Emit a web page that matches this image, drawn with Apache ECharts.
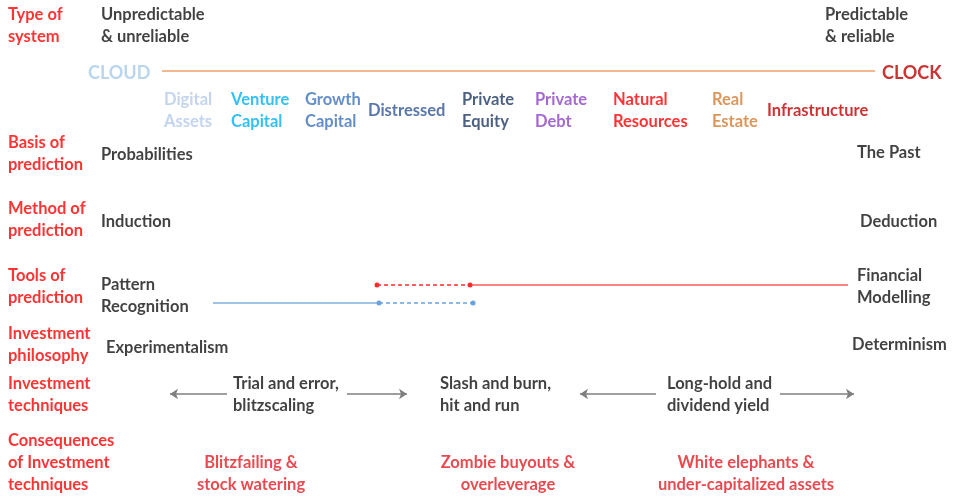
<!DOCTYPE html>
<html><head><meta charset="utf-8">
<script src="https://cdn.jsdelivr.net/npm/echarts@6/dist/echarts.min.js"></script>
<style>html,body{margin:0;padding:0;background:#fff}#c{width:959px;height:499px}</style>
</head><body><div id="c"></div>
<script>
// ---- content ----
const rowLabels = ['Type of\nsystem','Basis of\nprediction','Method of\nprediction','Tools of\nprediction','Investment\nphilosophy','Investment\ntechniques','Consequences\nof Investment\ntechniques'];
const cloudEnd = ['Unpredictable\n& unreliable','Probabilities','Induction','Pattern\nRecognition','Experimentalism'];
const clockEnd = ['Predictable\n& reliable','The Past','Deduction','Financial\nModelling','Determinism'];
const spectrumEnds = ['CLOUD','CLOCK'];
const assetClasses = ['Digital\nAssets','Venture\nCapital','Growth\nCapital','Distressed','Private\nEquity','Private\nDebt','Natural\nResources','Real\nEstate','Infrastructure'];
const techniques = ['Trial and error,\nblitzscaling','Slash and burn,\nhit and run','Long-hold and\ndividend yield'];
const consequences = ['Blitzfailing &\nstock watering','Zombie buyouts &\noverleverage','White elephants &\nunder-capitalized assets'];
// tools-of-prediction ranges along the cloud→clock scale
const patternSolid = [213, 379];
const patternDashed = [379, 473];
const modelDashed = [377, 470];
const modelSolid = [470, 848];
// arrows for investment techniques [from, to]
const techArrows = [[227, 170], [347, 407], [656, 580], [780, 854]];

// ---- layout / style ----
const FONT = 'Lato';
const FS = 16.5;
const rowY = [26, 154, 220, 287, 345, 394.5, 463];
const cloudX = [101, 101, 101, 101, 106];
const cloudY = [26, 155, 222, 296, 348];
const clockX = [825, 857, 860, 857, 852];
const clockY = [26, 153, 222, 287, 345];
const assetX = [164, 231, 305, 368, 462, 535, 613, 712, 767];
const assetColors = ['#b4c9e8','#00b0f0','#3b72bd','#2f5597','#1f3864','#8c44c6','#ff0000','#d27c33','#c00000'];
const techX = [233, 440, 667];
const consX = [251, 508, 746];
const spectrumY = 71;
const toolsY = [285, 303];
const arrowY = 394;

function txt(x, y, text, color, opts) {
  opts = opts || {};
  return {
    value: [x, y],
    label: {
      show: true, position: 'inside', formatter: text,
      align: opts.align || 'left', verticalAlign: 'middle',
      color: color, fontFamily: FONT, fontWeight: 'bold',
      fontSize: opts.size || FS, lineHeight: opts.lh || 22
    }
  };
}

const texts = [];
rowLabels.forEach((t, i) => texts.push(txt(8, rowY[i], t, '#ff0000')));
cloudEnd.forEach((t, i) => texts.push(txt(cloudX[i], cloudY[i], t, '#111111')));
clockEnd.forEach((t, i) => texts.push(txt(clockX[i], clockY[i], t, '#111111')));
texts.push(txt(88, spectrumY + 2, spectrumEnds[0], '#a9cbea', {size: 18}));
texts.push(txt(882, spectrumY + 2, spectrumEnds[1], '#c00000', {size: 18}));
assetClasses.forEach((t, i) => texts.push(txt(assetX[i], 111, t, assetColors[i])));
techniques.forEach((t, i) => texts.push(txt(techX[i], 394.5, t, '#111111')));
consequences.forEach((t, i) => texts.push(txt(consX[i], 474, t, '#e31b23', {align: 'center'})));

function seg(range, y, color, dashed, dots) {
  return {
    type: 'line', data: [[range[0], y], [range[1], y]],
    showSymbol: !!dots, symbol: 'circle', symbolSize: 5,
    itemStyle: {color: color}, silent: true,
    lineStyle: {color: color, width: 1.6, type: dashed ? [4, 3] : 'solid'},
    z: 2
  };
}

const series = [
  {type: 'line', data: [[162, spectrumY], [875, spectrumY]], showSymbol: false,
   lineStyle: {color: '#f5b88e', width: 2}, silent: true},
  seg(modelSolid, toolsY[0], '#ff5a5a', false, false),
  seg(modelDashed, toolsY[0], '#ff2b2b', true, true),
  seg(patternSolid, toolsY[1], '#7fb0e0', false, false),
  seg(patternDashed, toolsY[1], '#6aa3dc', true, true),
  {type: 'lines', coordinateSystem: 'cartesian2d', silent: true,
   symbol: ['none', 'arrow'], symbolSize: 8,
   lineStyle: {color: '#7f7f7f', width: 1.5, opacity: 1},
   data: techArrows.map(a => ({coords: [[a[0], arrowY], [a[1], arrowY]]}))},
  {type: 'scatter', symbolSize: 0, data: texts, silent: true, z: 5}
];

const chart = echarts.init(document.getElementById('c'));
chart.setOption({
  animation: false,
  backgroundColor: '#ffffff',
  grid: {left: 0, right: 0, top: 0, bottom: 0},
  xAxis: {type: 'value', min: 0, max: 959, show: false},
  yAxis: {type: 'value', min: 0, max: 499, inverse: true, show: false},
  series: series
});
</script></body></html>
